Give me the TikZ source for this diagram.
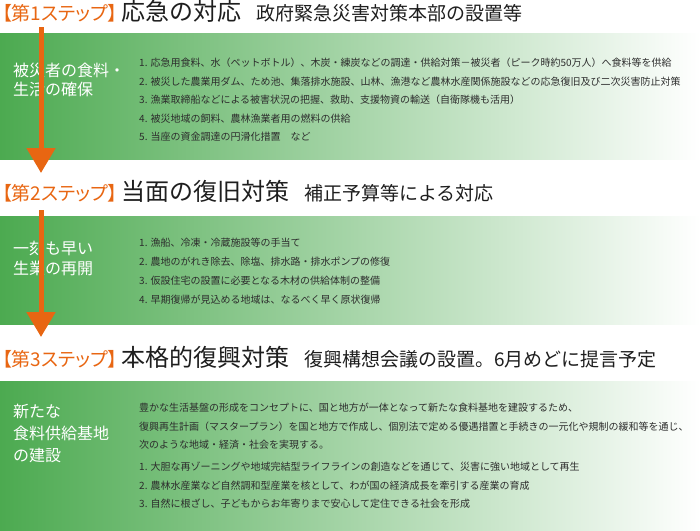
\documentclass[tikz,border=0pt]{standalone}
\usepackage{fontspec}
\setmainfont{Noto Sans CJK JP}
\newfontfamily\stepfont[RawFeature=+palt]{Noto Sans CJK JP}
\usetikzlibrary{arrows.meta}
\usetikzlibrary{positioning}
\definecolor{bandgreen}{RGB}{76,170,80}
\definecolor{steporange}{RGB}{232,102,18}
\definecolor{titlegray}{RGB}{30,30,30}
\definecolor{itemgray}{RGB}{45,45,45}

\begin{document}
\begin{tikzpicture}[x=1pt,y=-1pt]
		\useasboundingbox (0,0) rectangle (700,530);

		% green bands
		\shade[left color=bandgreen, right color=white] (0,33) rectangle (700,159);
		\shade[left color=bandgreen, right color=white] (0,216) rectangle (700,324);
		\shade[left color=bandgreen, right color=white] (0,381) rectangle (700,530);

		% step headings
		\begin{scope}[every node/.style={inner sep=0pt,anchor=base west},
		              steplabel/.style={text=steporange,font=\stepfont\fontsize{19}{19}\selectfont},
		              steptitle/.style={text=titlegray,font=\fontsize{24}{24}\selectfont},
		              stepsub/.style={text=titlegray,font=\fontsize{19}{19}\selectfont}]
			\node[steplabel] (step1) at (2,20.5) {【第1ステップ】};
			\node[steptitle,right=4pt of step1.base east,anchor=base west] (title1) {応急の対応};
			\node[stepsub,right=14pt of title1.base east,anchor=base west] (sub1) {政府緊急災害対策本部の設置等};

			\node[steplabel] (step2) at (2,200) {【第2ステップ】};
			\node[steptitle,right=4pt of step2.base east,anchor=base west] (title2) {当面の復旧対策};
			\node[stepsub,right=14pt of title2.base east,anchor=base west] (sub2) {補正予算等による対応};

			\node[steplabel] (step3) at (2,366) {【第3ステップ】};
			\node[steptitle,right=4pt of step3.base east,anchor=base west] (title3) {本格的復興対策};
			\node[stepsub,right=14pt of title3.base east,anchor=base west] (sub3) {復興構想会議の設置。6月めどに提言予定};
		\end{scope}

		% band labels and items
		\begin{scope}[every node/.style={inner sep=0pt,anchor=base west},
		              bandlabel/.style={text=white,font=\fontsize{16}{16}\selectfont},
		              item/.style={text=itemgray,font=\fontsize{10}{10}\selectfont}]
			\node[bandlabel] (lab1a) at (13,76) {被災者の食料・};
			\node[bandlabel] (lab1b) at (13,95) {生活の確保};

			\node[item] (it1a) at (139,66.8) {1. 応急用食料、水（ペットボトル）、木炭・練炭などの調達・供給対策－被災者（ピーク時約50万人）へ食料等を供給};
			\node[item] (it1b) at (139,85.3) {2. 被災した農業用ダム、ため池、集落排水施設、山林、漁港など農林水産関係施設などの応急復旧及び二次災害防止対策};
			\node[item] (it1c) at (139,103.8) {3. 漁業取締船などによる被害状況の把握、救助、支援物資の輸送（自衛隊機も活用）};
			\node[item] (it1d) at (139,122.3) {4. 被災地域の飼料、農林漁業者用の燃料の供給};
			\node[item] (it1e) at (139,140.8) {5. 当座の資金調達の円滑化措置　など};

			\node[bandlabel] (lab2a) at (13,254) {一刻も早い};
			\node[bandlabel] (lab2b) at (13,274.5) {生業の再開};

			\node[item] (it2a) at (139,246.8) {1. 漁船、冷凍・冷蔵施設等の手当て};
			\node[item] (it2b) at (139,265.5) {2. 農地のがれき除去、除塩、排水路・排水ポンプの修復};
			\node[item] (it2c) at (139,284.3) {3. 仮設住宅の設置に必要となる木材の供給体制の整備};
			\node[item] (it2d) at (139,303) {4. 早期復帰が見込める地域は、なるべく早く原状復帰};

			\node[bandlabel] (lab3a) at (13,417) {新たな};
			\node[bandlabel] (lab3b) at (13,439) {食料供給基地};
			\node[bandlabel] (lab3c) at (13,461) {の建設};

			\node[item] (par3a) at (139,411.8) {豊かな生活基盤の形成をコンセプトに、国と地方が一体となって新たな食料基地を建設するため、};
			\node[item] (par3b) at (139,430.3) {復興再生計画（マスタープラン）を国と地方で作成し、個別法で定める優遇措置と手続きの一元化や規制の緩和等を通じ、};
			\node[item] (par3c) at (139,448.8) {次のような地域・経済・社会を実現する。};
			\node[item] (it3a) at (139,470.8) {1. 大胆な再ゾーニングや地域完結型ライフラインの創造などを通じて、災害に強い地域として再生};
			\node[item] (it3b) at (139,489.3) {2. 農林水産業など自然調和型産業を核として、わが国の経済成長を牽引する産業の育成};
			\node[item] (it3c) at (139,507.8) {3. 自然に根ざし、子どもからお年寄りまで安心して定住できる社会を形成};
		\end{scope}

		% step arrows
		\coordinate (arr1s) at (41,27);
		\coordinate (arr1e) at (41,173);
		\coordinate (arr2s) at (41,210);
		\coordinate (arr2e) at (41,337);
		\begin{scope}[every path/.style={draw=steporange,line width=5pt},
		              >={Triangle[width=28pt,length=25pt]}]
			\path[->] (arr1s) -- (arr1e);
			\path[->] (arr2s) -- (arr2e);
		\end{scope}
\end{tikzpicture}
\end{document}
